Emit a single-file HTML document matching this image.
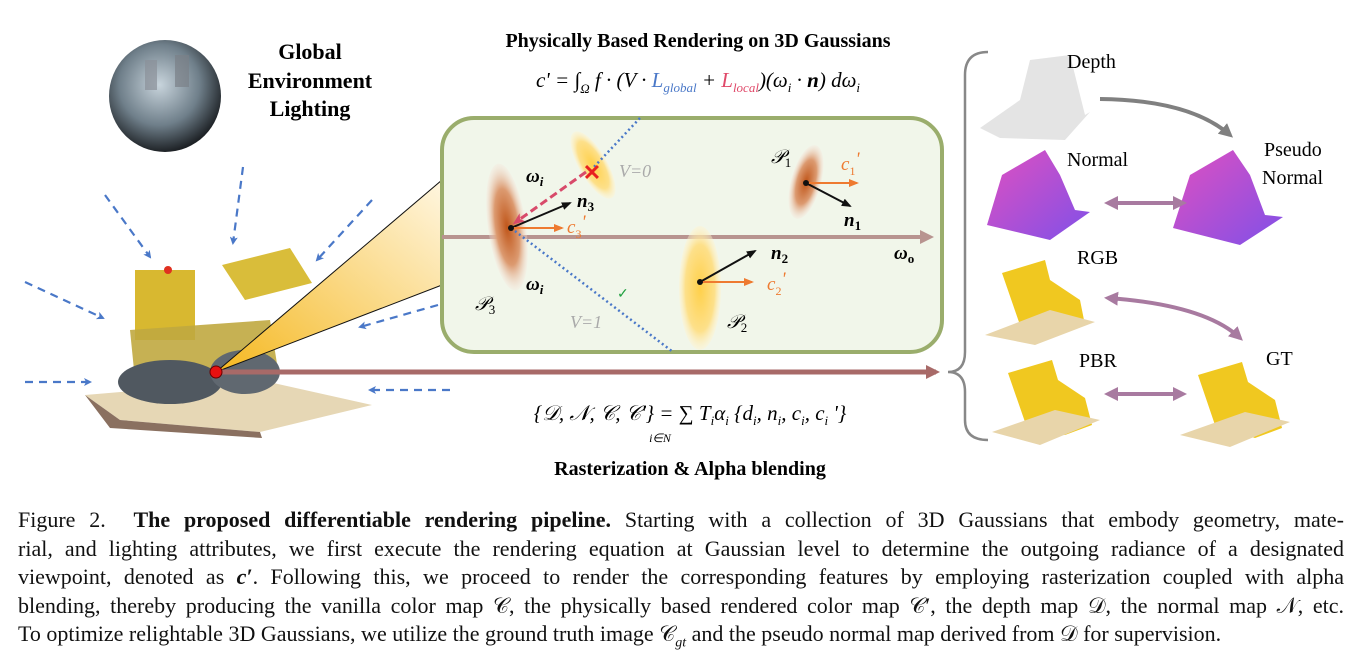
<!DOCTYPE html>
<html><head><meta charset="utf-8"><style>
body{margin:0;background:#fff;width:1368px;height:670px;overflow:hidden;position:relative;font-family:"Liberation Serif",serif}
svg{position:absolute;left:0;top:0}
#cap{position:absolute;left:18px;top:506px;width:1326px;font-size:22px;line-height:28.6px;color:#111}
#cap div{white-space:nowrap;text-align:justify;text-align-last:justify}
#cap div.l{text-align-last:left}
</style></head><body>
<svg width="1368" height="500" viewBox="0 0 1368 500" font-family="Liberation Serif, serif">
<defs>
<radialGradient id="br" cx="50%" cy="50%" r="50%"><stop offset="0" stop-color="#c0561a"/><stop offset="0.6" stop-color="#dc9a70"/><stop offset="1" stop-color="#f6e6dc" stop-opacity="0.3"/></radialGradient>
<radialGradient id="ye" cx="50%" cy="50%" r="50%"><stop offset="0" stop-color="#ffd04a"/><stop offset="0.7" stop-color="#fde08a"/><stop offset="1" stop-color="#fff4d0" stop-opacity="0.4"/></radialGradient>
<radialGradient id="sp" cx="45%" cy="40%" r="60%"><stop offset="0" stop-color="#c8d4dc"/><stop offset="0.6" stop-color="#6f7f8a"/><stop offset="1" stop-color="#1e2226"/></radialGradient>
<linearGradient id="cone" x1="0" y1="1" x2="1" y2="0"><stop offset="0" stop-color="#f5b820"/><stop offset="1" stop-color="#fff6e0"/></linearGradient>
<linearGradient id="nm" x1="0" y1="0" x2="1" y2="1"><stop offset="0" stop-color="#e050c0"/><stop offset="1" stop-color="#8050e8"/></linearGradient>
<marker id="ab" markerWidth="8" markerHeight="8" refX="6" refY="4" orient="auto" markerUnits="userSpaceOnUse"><path d="M0,0 L8,4 L0,8 L2,4z" fill="#4a78c8"/></marker>
<marker id="ak" markerWidth="10" markerHeight="8" refX="8" refY="4" orient="auto" markerUnits="userSpaceOnUse"><path d="M0,0 L10,4 L0,8z" fill="#111"/></marker>
<marker id="ao" markerWidth="10" markerHeight="8" refX="8" refY="4" orient="auto" markerUnits="userSpaceOnUse"><path d="M0,0 L10,4 L0,8z" fill="#ee7a30"/></marker>
<marker id="ap" markerWidth="12" markerHeight="10" refX="8" refY="5" orient="auto" markerUnits="userSpaceOnUse"><path d="M0,0 L12,5 L0,10 L3,5z" fill="#d84a6a"/></marker>
<marker id="aw" markerWidth="14" markerHeight="14" refX="10" refY="7" orient="auto" markerUnits="userSpaceOnUse"><path d="M0,0 L14,7 L0,14z" fill="#b89490"/></marker>
<marker id="ar" markerWidth="14" markerHeight="14" refX="10" refY="7" orient="auto" markerUnits="userSpaceOnUse"><path d="M0,0 L14,7 L0,14z" fill="#a86a68"/></marker>
<marker id="ag" markerWidth="14" markerHeight="14" refX="10" refY="7" orient="auto" markerUnits="userSpaceOnUse"><path d="M0,0 L14,7 L0,14z" fill="#808080"/></marker>
<marker id="am" markerWidth="14" markerHeight="14" refX="10" refY="7" orient="auto-start-reverse" markerUnits="userSpaceOnUse"><path d="M0,0 L14,7 L0,14z" fill="#a87aa0"/></marker>
</defs>

<circle cx="165" cy="96" r="56" fill="url(#sp)"/>
<rect x="145" y="60" width="12" height="30" fill="#8a9098" opacity=".7"/><rect x="175" y="55" width="14" height="32" fill="#7a8088" opacity=".7"/>
<text font-weight="bold" font-size="22" text-anchor="middle"><tspan x="310" y="59">Global</tspan><tspan x="310" y="88">Environment</tspan><tspan x="310" y="116">Lighting</tspan></text>

<path d="M85,395 L260,380 L372,405 L260,432 L120,420z" fill="#e6d7b5"/>
<path d="M85,395 L120,420 L260,432 L262,438 L110,428z" fill="#8a7060"/>
<rect x="135" y="270" width="60" height="70" fill="#d8b830"/>
<path d="M222,265 L290,248 L312,283 L245,300z" fill="#d9bd3a"/>
<path d="M130,330 L270,320 L278,370 L135,380z" fill="#c0a840" opacity=".9"/>
<ellipse cx="170" cy="382" rx="52" ry="22" fill="#505860"/>
<ellipse cx="245" cy="372" rx="35" ry="22" fill="#606870"/>
<circle cx="168" cy="270" r="4" fill="#e03020"/>

<path d="M216,372 L442,180 L442,285z" fill="url(#cone)" stroke="#111" stroke-width="1"/>

<g stroke="#4a78c8" stroke-width="2.2" stroke-dasharray="8,6" fill="none" marker-end="url(#ab)">
<line x1="105" y1="195" x2="150" y2="257"/><line x1="243" y1="167" x2="233" y2="243"/>
<line x1="372" y1="200" x2="317" y2="260"/><line x1="25" y1="282" x2="103" y2="318"/>
<line x1="438" y1="305" x2="360" y2="327"/><line x1="25" y1="382" x2="90" y2="382"/>
<line x1="450" y1="390" x2="370" y2="390"/>
</g>

<text x="698" y="47" font-weight="bold" font-size="20" text-anchor="middle">Physically Based Rendering on 3D Gaussians</text>
<text x="698" y="87" font-size="21" text-anchor="middle" font-style="italic">c' = ∫<tspan font-size="13" dy="6">Ω</tspan><tspan dy="-6"> f · (V · </tspan><tspan fill="#4a78c8">L<tspan font-size="13" dy="5">global</tspan></tspan><tspan dy="-5"> + </tspan><tspan fill="#e04a6a">L<tspan font-size="13" dy="5">local</tspan></tspan><tspan dy="-5">)(ω</tspan><tspan font-size="13" dy="5">i</tspan><tspan dy="-5"> · </tspan><tspan font-weight="bold">n</tspan>) dω<tspan font-size="13" dy="5">i</tspan></text>

<rect x="442" y="118" width="500" height="234" rx="32" fill="#f1f6ea" stroke="#9aad6c" stroke-width="4"/>
<line x1="442" y1="237" x2="930" y2="237" stroke="#b89490" stroke-width="4" marker-end="url(#aw)"/>
<ellipse cx="507" cy="227" rx="19" ry="64" fill="url(#br)" transform="rotate(-8 507 227)"/>
<ellipse cx="593" cy="165" rx="14" ry="38" fill="url(#ye)" transform="rotate(-30 593 165)"/>
<ellipse cx="806" cy="182" rx="15" ry="38" fill="url(#br)" transform="rotate(15 806 182)"/>
<ellipse cx="700" cy="288" rx="21" ry="62" fill="url(#ye)"/>
<line x1="640" y1="118" x2="593" y2="168" stroke="#4a78c8" stroke-width="2.5" stroke-dasharray="2,3"/>
<line x1="511" y1="228" x2="673" y2="352" stroke="#4a78c8" stroke-width="2.5" stroke-dasharray="2,3"/>
<line x1="586" y1="172" x2="516" y2="222" stroke="#d84a6a" stroke-width="3" stroke-dasharray="8,4" marker-end="url(#ap)"/>
<text x="592" y="180" fill="#e82020" font-size="22" font-weight="bold" text-anchor="middle">✕</text>
<g stroke-width="2"><line x1="511" y1="228" x2="570" y2="203" stroke="#111" marker-end="url(#ak)"/>
<line x1="511" y1="228" x2="562" y2="228" stroke="#ee7a30" marker-end="url(#ao)"/>
<line x1="806" y1="183" x2="850" y2="206" stroke="#111" marker-end="url(#ak)"/>
<line x1="806" y1="183" x2="857" y2="183" stroke="#ee7a30" marker-end="url(#ao)"/>
<line x1="700" y1="282" x2="755" y2="251" stroke="#111" marker-end="url(#ak)"/>
<line x1="700" y1="282" x2="752" y2="282" stroke="#ee7a30" marker-end="url(#ao)"/></g>
<circle cx="511" cy="228" r="3" fill="#111"/><circle cx="806" cy="183" r="3" fill="#111"/><circle cx="700" cy="282" r="3" fill="#111"/>
<g font-size="19" font-style="italic">
<text x="526" y="182" font-weight="bold">ω<tspan font-size="13" dy="4">i</tspan></text>
<text x="526" y="290" font-weight="bold">ω<tspan font-size="13" dy="4">i</tspan></text>
<text x="577" y="207" font-weight="bold">n<tspan font-size="13" dy="4" font-style="normal">3</tspan></text>
<text x="567" y="233" fill="#ee7a30">c<tspan font-size="12" dy="5" font-style="normal">3</tspan><tspan dy="-10">'</tspan></text>
<text x="619" y="177" fill="#aaa" font-size="18">V=0</text>
<text x="570" y="328" fill="#aaa" font-size="18">V=1</text>
<text x="771" y="163">𝒫<tspan font-size="13" dy="4" font-style="normal">1</tspan></text>
<text x="841" y="170" fill="#ee7a30">c<tspan font-size="12" dy="5" font-style="normal">1</tspan><tspan dy="-10">'</tspan></text>
<text x="844" y="226" font-weight="bold">n<tspan font-size="13" dy="4" font-style="normal">1</tspan></text>
<text x="771" y="259" font-weight="bold">n<tspan font-size="13" dy="4" font-style="normal">2</tspan></text>
<text x="767" y="290" fill="#ee7a30">c<tspan font-size="12" dy="5" font-style="normal">2</tspan><tspan dy="-10">'</tspan></text>
<text x="894" y="259" font-weight="bold">ω<tspan font-size="13" dy="4" font-style="normal">o</tspan></text>
<text x="475" y="310">𝒫<tspan font-size="13" dy="4" font-style="normal">3</tspan></text>
<text x="727" y="328">𝒫<tspan font-size="13" dy="4" font-style="normal">2</tspan></text>
</g>
<text x="617" y="298" fill="#20a040" font-size="14">✓</text>

<line x1="216" y1="372" x2="936" y2="372" stroke="#a86a68" stroke-width="5" marker-end="url(#ar)"/>
<circle cx="216" cy="372" r="6" fill="#e81010" stroke="#600" stroke-width="1"/>

<text x="690" y="420" font-size="21" text-anchor="middle" font-style="italic">{𝒟, 𝒩, 𝒞, 𝒞'} = ∑ T<tspan font-size="13" dy="5">i</tspan><tspan dy="-5">α</tspan><tspan font-size="13" dy="5">i</tspan><tspan dy="-5"> {d</tspan><tspan font-size="13" dy="5">i</tspan><tspan dy="-5">, n</tspan><tspan font-size="13" dy="5">i</tspan><tspan dy="-5">, c</tspan><tspan font-size="13" dy="5">i</tspan><tspan dy="-5">, c</tspan><tspan font-size="13" dy="5">i</tspan><tspan dy="-5"> '}</tspan></text>
<text x="660" y="442" font-size="12" font-style="italic" text-anchor="middle">i∈N</text>
<text x="690" y="475" font-weight="bold" font-size="20" text-anchor="middle">Rasterization &amp; Alpha blending</text>

<path d="M988,52 Q965,52 965,75 L965,352 Q965,372 948,372 Q965,372 965,392 L965,420 Q965,440 988,440" fill="none" stroke="#888" stroke-width="2.5"/>

<path d="M980,128 L1020,100 L1030,60 L1070,55 L1085,115 L1090,112 L1065,140 L1000,138z" fill="#e4e4e4"/>
<path d="M1002,175 L1045,150 L1060,175 L1075,210 L1090,212 L1050,240 L987,225z" fill="url(#nm)"/>
<path d="M1190,175 L1233,150 L1250,175 L1265,215 L1283,217 L1240,245 L1173,228z" fill="url(#nm)"/>
<g fill="#f0c820"><path d="M1002,273 L1045,260 L1050,280 L1080,300 L1085,325 L1060,335 L1020,325z"/>
<path d="M1008,373 L1052,360 L1058,380 L1085,398 L1092,425 L1065,435 L1025,422z"/>
<path d="M1198,375 L1242,362 L1248,382 L1275,400 L1282,428 L1255,438 L1215,425z"/></g>
<g fill="#e8d5aa"><path d="M985,335 L1050,310 L1095,322 L1035,345z"/><path d="M992,432 L1055,410 L1100,420 L1040,445z"/><path d="M1180,435 L1245,412 L1290,422 L1230,447z"/></g>
<path d="M1100,99 Q1190,100 1230,135" fill="none" stroke="#808080" stroke-width="4" marker-end="url(#ag)"/>
<g stroke="#a87aa0" stroke-width="4" fill="none" marker-start="url(#am)" marker-end="url(#am)">
<line x1="1108" y1="203" x2="1183" y2="203"/><line x1="1108" y1="394" x2="1183" y2="394"/>
<path d="M1108,298 Q1205,305 1240,338"/></g>
<g font-size="20"><text x="1067" y="68">Depth</text><text x="1067" y="166">Normal</text>
<text x="1264" y="156">Pseudo</text><text x="1262" y="184">Normal</text>
<text x="1077" y="264">RGB</text><text x="1079" y="367">PBR</text><text x="1266" y="365">GT</text></g>
</svg>
<div id="cap">
<div>Figure 2. &nbsp;<b>The proposed differentiable rendering pipeline.</b> Starting with a collection of 3D Gaussians that embody geometry, mate-</div>
<div>rial, and lighting attributes, we first execute the rendering equation at Gaussian level to determine the outgoing radiance of a designated</div>
<div>viewpoint, denoted as <b><i>c′</i></b>. Following this, we proceed to render the corresponding features by employing rasterization coupled with alpha</div>
<div>blending, thereby producing the vanilla color map 𝒞, the physically based rendered color map 𝒞′, the depth map 𝒟, the normal map 𝒩, etc.</div>
<div class="l">To optimize relightable 3D Gaussians, we utilize the ground truth image 𝒞<sub style="font-size:14px;line-height:0"><i>gt</i></sub> and the pseudo normal map derived from 𝒟 for supervision.</div>
</div>
</body></html>
